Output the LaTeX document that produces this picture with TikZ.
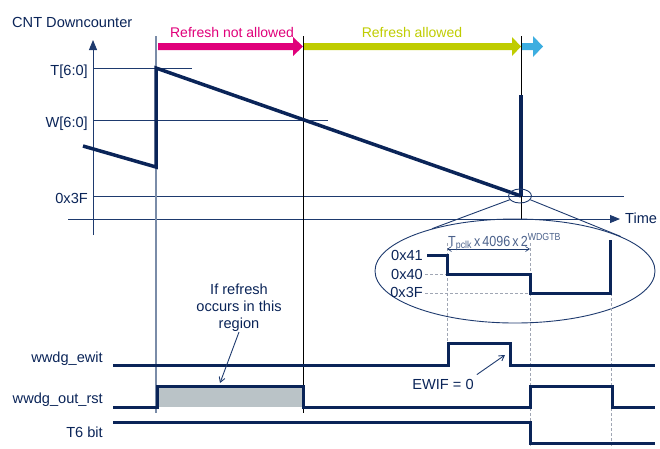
\documentclass[tikz,border=0pt]{standalone}
\usepackage{fontspec}
\setmainfont{Liberation Sans}
\usetikzlibrary{shapes.geometric,arrows.meta}
\definecolor{navy}{HTML}{0A2458}
\definecolor{thinc}{HTML}{1E3A6E}
\definecolor{pinkc}{HTML}{E0007A}
\definecolor{limec}{HTML}{BFCC00}
\definecolor{bluec}{HTML}{3DAEE0}
\definecolor{grayv}{HTML}{7A8CA8}
\definecolor{boxfill}{HTML}{BAC3C7}
\definecolor{guidec}{HTML}{A0A6B4}
\begin{document}
\begin{tikzpicture}[x=1pt,y=-1pt,
  font=\fontsize{14.6}{17}\selectfont,
  lbl/.style={text=navy, inner sep=0pt, anchor=base east},
  txt/.style={text=navy, inner sep=0pt},
  sig/.style={navy, line width=3pt, line join=miter},
  thinl/.style={thinc, line width=0.9pt},
  guide/.style={guidec, line width=0.5pt, dash pattern=on 3pt off 2pt},
  axisarrow/.style={thinl, -{Triangle[length=10pt,width=8pt]}},
  callout/.style={thinl, -{Straight Barb[length=5pt,width=6pt]}}]
\useasboundingbox (0,0) rectangle (660,448);

% ---- top arrows ----
\fill[pinkc] (158,43) -- (293,43) -- (293,37) -- (303,46.5) -- (293,56) -- (293,50) -- (158,50) -- cycle;
\fill[limec] (303,43) -- (512,43) -- (512,37) -- (521,46.5) -- (512,56) -- (512,50) -- (303,50) -- cycle;
\fill[bluec] (521,43) -- (533,43) -- (533,36) -- (543,46.5) -- (533,57) -- (533,50) -- (521,50) -- cycle;
\node[inner sep=0pt, anchor=base, text=pinkc, font=\fontsize{14}{17}\selectfont] (rna) at (232,37) {Refresh not allowed};
\node[inner sep=0pt, anchor=base, text=limec, font=\fontsize{14}{17}\selectfont] (ra) at (412,37) {Refresh allowed};
\node[txt, anchor=base west] (cnt) at (12,27) {CNT Downcounter};

% ---- grid lines ----
\draw[thinl] (93,68) -- (192,68);
\draw[thinl] (93,120) -- (328,120);
\draw[thinl] (93,196) -- (624,196);
\node[lbl] (tlab) at (88,75) {T[6:0]};
\node[lbl] (wlab) at (88,127) {W[6:0]};
\node[lbl] (flab) at (88,203) {0x3F};

% ---- axes ----
\coordinate (ybot) at (93,235);
\coordinate (ytop) at (93,40);
\coordinate (tl) at (68,219);
\coordinate (tr) at (620,219);
\draw[axisarrow] (ybot) -- (ytop);
\draw[axisarrow] (tl) -- (tr);
\node[txt, anchor=base west] (time) at (625,223) {Time};

% ---- vertical markers ----
\draw[grayv, line width=2pt] (156,36) -- (156,413);
\draw[black, line width=0.8pt] (303,36) -- (303,413);
\draw[black, line width=0.8pt] (521,36) -- (521,219);

% ---- sawtooth ----
\draw[navy, line width=3.5pt, line join=miter] (83,146) -- (156,167) -- (156,68) -- (521,196);
\draw[navy, line width=3.5pt] (521,196) -- (521,95);

% ---- zoom ellipses ----
\node[draw=thinc, line width=0.9pt, ellipse, minimum width=23pt, minimum height=14pt, inner sep=0pt] (small) at (520,196) {};
\node[draw=thinc, line width=0.9pt, ellipse, minimum width=280pt, minimum height=104pt, inner sep=0pt] (big) at (515,271) {};
\draw[thinl] (small.200) -- (big.153);
\draw[thinl] (small.340) -- (big.18);

% ---- zoomed waveform ----
\draw[guide] (425,274) -- (447,274);
\draw[guide] (425,293) -- (530,293);
\draw[guide] (447,243) -- (447,343);
\draw[guide] (530,243) -- (530,448);
\draw[guide] (611,293) -- (611,448);
\draw[sig] (427,255) -- (447,255) -- (447,274) -- (530,274) -- (530,293) -- (610,293) -- (610,240);
\node[lbl] (l41) at (423,260) {0x41};
\node[lbl] (l40) at (423,279) {0x40};
\node[lbl] (l3f) at (423,297) {0x3F};
\coordinate (dimL) at (447,249);
\coordinate (dimR) at (530,249);
\draw[thinl, line width=0.6pt, {Straight Barb[length=4pt,width=5pt]}-{Straight Barb[length=4pt,width=5pt]}] (dimL) -- (dimR);
\node[inner sep=0pt, anchor=base west, text=thinc!80] (dimlab) at (448,246) {\scalebox{0.86}[1]{T\textsubscript{pclk}\,x\,4096\,x\,2\textsuperscript{WDGTB}}};

% ---- signals ----
\fill[boxfill] (157,386) rectangle (303,407);
\draw[sig] (113,365) -- (448,365) -- (448,343) -- (510,343) -- (510,365) -- (655,365);
\draw[sig] (113,407) -- (157,407) -- (157,386) -- (303,386) -- (303,407) -- (530,407) -- (530,386) -- (612,386) -- (612,407) -- (655,407);
\draw[sig] (113,422) -- (530,422) -- (530,443) -- (655,443);
\node[lbl] (ewit) at (103,362) {wwdg\_ewit};
\node[lbl] (rst) at (103,403) {wwdg\_out\_rst};
\node[lbl] (t6) at (103,437) {T6 bit};

% ---- callouts ----
\node[txt, align=center] (ifref) at (239,308) {If refresh\\occurs in this\\region};
\coordinate (boxtop) at (220,383);
\draw[callout] (ifref.south) -- (boxtop);
\node[txt, anchor=base] (ewif) at (443,389) {EWIF = 0};
\coordinate (ewiftip) at (505,355);
\draw[callout] (ewif.north east) ++(3,-4) -- (ewiftip);
\end{tikzpicture}
\end{document}
